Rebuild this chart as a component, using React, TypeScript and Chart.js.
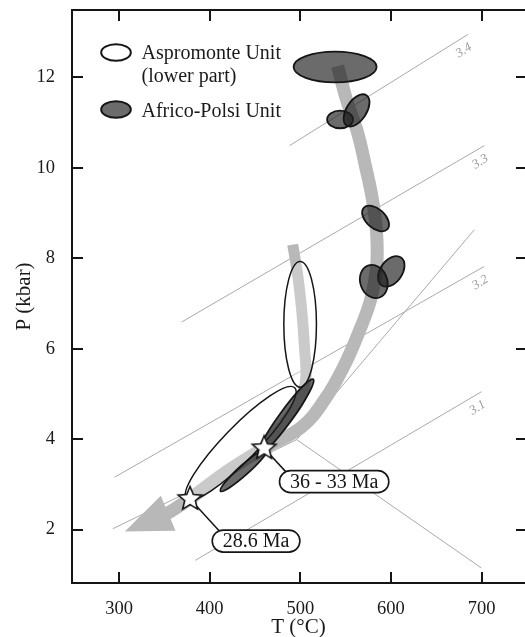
import React, { useEffect, useRef } from 'react';
import { Chart, registerables } from 'chart.js';

Chart.register(...registerables);

// ---------- axes ----------
const X_TICKS = [300, 400, 500, 600, 700];
const Y_TICKS = [2, 4, 6, 8, 10, 12];
const T_MIN = 248;
const T_MAX = 748;
const P_MIN = 0.82;
const P_MAX = 13.49;

// ---------- Si isopleths (phengite) ----------
const ISO_LABELS = ['3.4', '3.3', '3.2', '3.1'];
const ISO_T0 = [488, 369, 295, 384];
const ISO_P0 = [10.49, 6.59, 3.16, 1.32];
const ISO_T1 = [685, 703, 703, 700];
const ISO_P1 = [12.95, 10.49, 7.82, 5.05];

// ---------- reaction lines from the invariant point ----------
const INV_T = 496;
const INV_P = 3.99;
const REACT_T = [293, 700, 692];
const REACT_P = [2.02, 1.15, 8.63];

// ---------- P-T paths (last point of main path = arrow tip) ----------
const MAIN_T = [541.2, 551.1, 563.2, 572.0, 579.7, 584.2, 584.2, 577.6, 564.3, 547.8, 526.8, 501.5, 460.7, 419.9, 378.0, 352.6, 306.3];
const MAIN_P = [12.25, 11.5, 10.78, 10.03, 9.29, 8.56, 7.81, 7.08, 6.35, 5.6, 4.87, 4.27, 3.81, 3.3, 2.68, 2.35, 1.96];
const BRANCH_T = [491.6, 497.1, 501.5, 504.8, 505.9, 499.3, 487.1, 472.8, 460.7];
const BRANCH_P = [8.3, 7.63, 6.86, 5.98, 5.31, 4.87, 4.5, 4.16, 3.81];

// ---------- P-T fields: Aspromonte Unit (lower part) ----------
const ASP_T = [499.8, 434.2];
const ASP_P = [6.54, 3.91];
const ASP_RT = [18, 85.5];
const ASP_RP = [1.39, 0.375];
const ASP_ROT = [0, -45.8];

// ---------- P-T fields: Africo-Polsi Unit ----------
const AP_T = [538.4, 543.9, 562.1, 583.1, 600.4, 581.1, 438.1, 483.8];
const AP_P = [12.23, 11.07, 11.27, 8.88, 7.71, 7.485, 3.325, 4.485];
const AP_RT = [45.8, 14.3, 19.9, 17.6, 18.7, 18.7, 35.3, 51.8];
const AP_RP = [0.34, 0.195, 0.221, 0.21, 0.243, 0.298, 0.11, 0.144];
const AP_ROT = [0, 0, -57, 42, -55, 70, -42, -54];

// ---------- ages ----------
const AGE_TEXT = ['36 - 33 Ma', '28.6 Ma'];
const AGE_T = [460.1, 378.3];
const AGE_P = [3.8, 2.68];

// ---------- legend ----------
const LEGEND_ASP = ['Aspromonte Unit', '(lower part)'];
const LEGEND_AP = 'Africo-Polsi Unit';

const SERIF = "'Liberation Serif', 'Times New Roman', serif";
const PATH_COLOR = '#b8b8b8';
const GRID_COLOR = '#a9a9a9';
const INK = '#151515';

function makeStar(R: number, r: number) {
  const c = document.createElement('canvas');
  const s = 30;
  c.width = s;
  c.height = s;
  const g = c.getContext('2d')!;
  g.translate(s / 2, s / 2);
  g.beginPath();
  for (let i = 0; i < 10; i++) {
    const a = -Math.PI / 2 + (i * Math.PI) / 5;
    const rad = i % 2 === 0 ? R : r;
    g.lineTo(rad * Math.cos(a), rad * Math.sin(a));
  }
  g.closePath();
  g.fillStyle = '#ffffff';
  g.fill();
  g.lineWidth = 1.6;
  g.strokeStyle = INK;
  g.stroke();
  return c;
}

function drawField(ctx: CanvasRenderingContext2D, chart: any, t: number, p: number, rt: number, rp: number, rot: number, fill: string, lw: number) {
  const xs = chart.scales.x;
  const ys = chart.scales.y;
  const cx = xs.getPixelForValue(t);
  const cy = ys.getPixelForValue(p);
  const rx = Math.abs(xs.getPixelForValue(t + rt) - cx);
  const ry = Math.abs(ys.getPixelForValue(p + rp) - cy);
  ctx.beginPath();
  ctx.ellipse(cx, cy, rx, ry, (rot * Math.PI) / 180, 0, Math.PI * 2);
  ctx.fillStyle = fill;
  ctx.fill();
  ctx.lineWidth = lw;
  ctx.strokeStyle = INK;
  ctx.stroke();
}

function pill(ctx: CanvasRenderingContext2D, x: number, y: number, w: number, h: number) {
  const r = h / 2;
  ctx.beginPath();
  ctx.moveTo(x + r, y);
  ctx.lineTo(x + w - r, y);
  ctx.arc(x + w - r, y + r, r, -Math.PI / 2, Math.PI / 2);
  ctx.lineTo(x + r, y + h);
  ctx.arc(x + r, y + r, r, Math.PI / 2, (3 * Math.PI) / 2);
  ctx.closePath();
}

const LABEL_OFFSETS = [
  { dx: 70, dy: 33.4, lx: 8, ly: 3 },
  { dx: 66, dy: 42.2, lx: 8, ly: 2 },
];

const overlay = {
  id: 'overlay',
  beforeDatasetDraw(chart: any, args: any) {
    const ds = chart.data.datasets[args.index];
    if (ds.label !== 'ages') return;
    const ctx: CanvasRenderingContext2D = chart.ctx;
    const xs = chart.scales.x;
    const ys = chart.scales.y;
    ctx.save();

    // arrow head of the main path
    const n = MAIN_T.length;
    const bx = xs.getPixelForValue(MAIN_T[n - 2]);
    const by = ys.getPixelForValue(MAIN_P[n - 2]);
    const tx = xs.getPixelForValue(MAIN_T[n - 1]);
    const ty = ys.getPixelForValue(MAIN_P[n - 1]);
    const dx = tx - bx;
    const dy = ty - by;
    const len = Math.hypot(dx, dy);
    const ux = dx / len;
    const uy = dy / len;
    const nx = -uy;
    const ny = ux;
    const hw = 19;
    const b0x = bx - ux * 1.5;
    const b0y = by - uy * 1.5;
    ctx.beginPath();
    ctx.moveTo(tx, ty);
    ctx.lineTo(b0x + nx * hw, b0y + ny * hw);
    ctx.lineTo(b0x - nx * hw, b0y - ny * hw);
    ctx.closePath();
    ctx.fillStyle = PATH_COLOR;
    ctx.fill();

    // Aspromonte fields
    for (let i = 0; i < ASP_T.length; i++) {
      drawField(ctx, chart, ASP_T[i], ASP_P[i], ASP_RT[i], ASP_RP[i], ASP_ROT[i], 'rgba(255,255,255,0.25)', 1.5);
    }
    // Africo-Polsi fields
    for (let i = 0; i < AP_T.length; i++) {
      drawField(ctx, chart, AP_T[i], AP_P[i], AP_RT[i], AP_RP[i], AP_ROT[i], 'rgba(30,30,30,0.66)', 1.8);
    }

    // age labels with leaders
    ctx.font = `20px ${SERIF}`;
    for (let i = 0; i < AGE_TEXT.length; i++) {
      const sx = xs.getPixelForValue(AGE_T[i]);
      const sy = ys.getPixelForValue(AGE_P[i]);
      const o = LABEL_OFFSETS[i];
      const tw = ctx.measureText(AGE_TEXT[i]).width;
      const w = tw + 21;
      const h = 22;
      const cx = sx + o.dx;
      const cy = sy + o.dy;
      const left = cx - w / 2;
      const top = cy - h / 2;
      ctx.beginPath();
      ctx.moveTo(sx, sy);
      ctx.lineTo(left + o.lx, top + o.ly);
      ctx.lineWidth = 1.5;
      ctx.strokeStyle = INK;
      ctx.stroke();
      pill(ctx, left, top, w, h);
      ctx.fillStyle = '#ffffff';
      ctx.fill();
      ctx.lineWidth = 1.6;
      ctx.stroke();
      ctx.fillStyle = INK;
      ctx.textAlign = 'center';
      ctx.textBaseline = 'middle';
      ctx.fillText(AGE_TEXT[i], cx, cy + 1);
    }
    ctx.restore();
  },
  afterDraw(chart: any) {
    const ctx: CanvasRenderingContext2D = chart.ctx;
    const xs = chart.scales.x;
    const ys = chart.scales.y;
    const { left, right, top, bottom } = chart.chartArea;
    ctx.save();

    // isopleth labels
    ctx.font = `italic 13px ${SERIF}`;
    ctx.fillStyle = '#9c9c9c';
    ctx.textAlign = 'center';
    ctx.textBaseline = 'middle';
    for (let i = 0; i < ISO_LABELS.length; i++) {
      const x1 = xs.getPixelForValue(ISO_T1[i]);
      const y1 = ys.getPixelForValue(ISO_P1[i]);
      ctx.save();
      ctx.translate(x1 - 4, y1 + 16);
      ctx.rotate((-32 * Math.PI) / 180);
      ctx.fillText(ISO_LABELS[i], 0, 0);
      ctx.restore();
    }

    // frame (left, top, bottom; right edge lies at the page border) + inward ticks
    ctx.strokeStyle = INK;
    ctx.lineWidth = 2;
    ctx.beginPath();
    ctx.moveTo(right + 2, top);
    ctx.lineTo(left, top);
    ctx.lineTo(left, bottom);
    ctx.lineTo(right + 2, bottom);
    ctx.stroke();
    ctx.beginPath();
    const tl = 11;
    for (const v of X_TICKS) {
      const px = Math.round(xs.getPixelForValue(v));
      ctx.moveTo(px, bottom);
      ctx.lineTo(px, bottom - tl);
      ctx.moveTo(px, top);
      ctx.lineTo(px, top + tl);
    }
    for (const v of Y_TICKS) {
      const py = Math.round(ys.getPixelForValue(v));
      ctx.moveTo(left, py);
      ctx.lineTo(left + tl, py);
      ctx.moveTo(right + 1, py);
      ctx.lineTo(right - 9, py);
    }
    ctx.stroke();

    // legend
    ctx.lineWidth = 2;
    ctx.beginPath();
    ctx.ellipse(116, 52.5, 14.8, 8.3, 0, 0, Math.PI * 2);
    ctx.fillStyle = '#ffffff';
    ctx.fill();
    ctx.stroke();
    ctx.beginPath();
    ctx.ellipse(116, 109.5, 14.8, 8.3, 0, 0, Math.PI * 2);
    ctx.fillStyle = 'rgba(30,30,30,0.66)';
    ctx.fill();
    ctx.stroke();
    ctx.font = `20px ${SERIF}`;
    ctx.fillStyle = '#1a1a1a';
    ctx.textAlign = 'left';
    ctx.textBaseline = 'alphabetic';
    ctx.fillText(LEGEND_ASP[0], 141.5, 59.3);
    ctx.fillText(LEGEND_ASP[1], 141.5, 82.3);
    ctx.fillText(LEGEND_AP, 141.5, 116.7);
    ctx.restore();
  },
};

export default function App() {
  const ref = useRef<HTMLCanvasElement>(null);

  useEffect(() => {
    if (!ref.current) return;
    const star = makeStar(12.5, 5.6);
    const gridSets: any[] = [];
    for (let i = 0; i < ISO_LABELS.length; i++) {
      gridSets.push({
        label: 'iso ' + ISO_LABELS[i],
        data: [
          { x: ISO_T0[i], y: ISO_P0[i] },
          { x: ISO_T1[i], y: ISO_P1[i] },
        ],
        borderColor: GRID_COLOR,
        borderWidth: 1,
        pointRadius: 0,
        order: 20,
      });
    }
    for (let i = 0; i < REACT_T.length; i++) {
      gridSets.push({
        label: 'reaction ' + i,
        data: [
          { x: INV_T, y: INV_P },
          { x: REACT_T[i], y: REACT_P[i] },
        ],
        borderColor: GRID_COLOR,
        borderWidth: 1,
        pointRadius: 0,
        order: 20,
      });
    }
    const mainShaft = MAIN_T.slice(0, MAIN_T.length - 1).map((t, i) => ({ x: t, y: MAIN_P[i] }));
    const branch = BRANCH_T.map((t, i) => ({ x: t, y: BRANCH_P[i] }));

    const chart = new Chart(ref.current, {
      type: 'line',
      data: {
        datasets: [
          {
            label: 'ages',
            data: AGE_T.map((t, i) => ({ x: t, y: AGE_P[i] })),
            showLine: false,
            pointStyle: star as any,
            pointRadius: 12,
            order: 0,
          },
          {
            label: 'main path',
            data: mainShaft,
            borderColor: PATH_COLOR,
            borderWidth: 13,
            borderCapStyle: 'butt',
            tension: 0.4,
            pointRadius: 0,
            order: 5,
          },
          {
            label: 'branch path',
            data: branch,
            borderColor: PATH_COLOR,
            borderWidth: 11,
            borderCapStyle: 'butt',
            tension: 0.4,
            pointRadius: 0,
            order: 6,
          },
          ...gridSets,
        ] as any,
      },
      options: {
        responsive: false,
        animation: false,
        devicePixelRatio: 1,
        events: [],
        layout: { autoPadding: false, padding: { top: 10, right: 0, left: 0, bottom: 0 } },
        plugins: {
          legend: { display: false },
          tooltip: { enabled: false },
        },
        scales: {
          x: {
            type: 'linear',
            min: T_MIN,
            max: T_MAX,
            afterBuildTicks: (s: any) => {
              s.ticks = X_TICKS.map((v) => ({ value: v }));
            },
            afterFit: (s: any) => {
              s.height = 54;
              s.paddingLeft = 0;
              s.paddingRight = 0;
              s.paddingTop = 0;
              s.paddingBottom = 0;
            },
            grid: { display: false },
            border: { display: false },
            ticks: {
              font: { family: SERIF, size: 18.5 },
              color: '#1a1a1a',
              padding: 7,
              maxRotation: 0,
              autoSkip: false,
            },
            title: {
              display: true,
              text: 'T (°C)',
              font: { family: SERIF, size: 21, lineHeight: 0.9 },
              color: '#1a1a1a',
              padding: { top: 0, bottom: 0 },
            },
          },
          y: {
            type: 'linear',
            min: P_MIN,
            max: P_MAX,
            afterBuildTicks: (s: any) => {
              s.ticks = Y_TICKS.map((v) => ({ value: v }));
            },
            afterFit: (s: any) => {
              s.width = 72;
              s.paddingLeft = 0;
              s.paddingRight = 0;
              s.paddingTop = 0;
              s.paddingBottom = 0;
            },
            grid: { display: false },
            border: { display: false },
            ticks: {
              font: { family: SERIF, size: 18.5 },
              color: '#1a1a1a',
              padding: 9,
              autoSkip: false,
            },
            title: {
              display: true,
              text: 'P (kbar)',
              font: { family: SERIF, size: 21, lineHeight: 1.2 },
              color: '#1a1a1a',
              padding: { top: 12, bottom: 0 },
            },
          },
        },
      } as any,
      plugins: [overlay as any],
    });
    return () => chart.destroy();
  }, []);

  return (
    <div style={{ position: 'fixed', left: 0, top: 0, width: 525, height: 637, background: '#ffffff' }}>
      <canvas ref={ref} width={525} height={637} style={{ display: 'block', width: 525, height: 637 }} />
    </div>
  );
}
